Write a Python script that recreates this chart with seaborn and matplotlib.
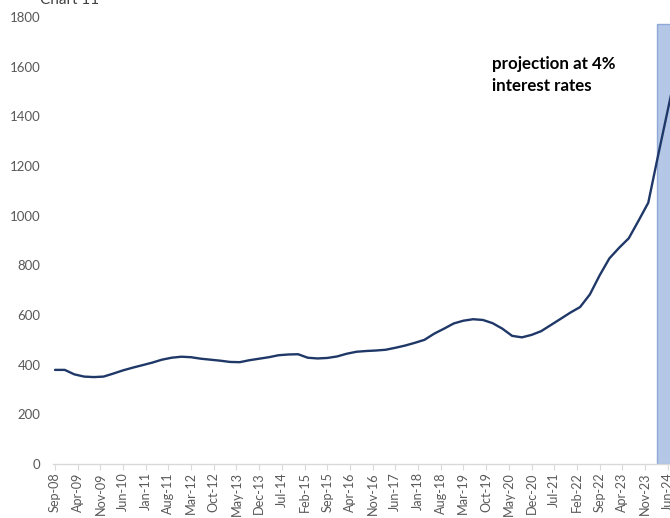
import matplotlib
matplotlib.use("Agg")
import matplotlib.pyplot as plt
import matplotlib.dates as mdates
from matplotlib.patches import Rectangle
import seaborn as sns
import pandas as pd
import numpy as np

# ---- data (quarterly) ----
start_date = "2008-09-01"
values = [379, 379, 361, 352, 350, 352, 364, 377, 388, 398, 408, 420, 428, 432,
          430, 424, 420, 416, 411, 410, 418, 424, 430, 438, 441, 442, 428, 425,
          427, 433, 444, 452, 455, 457, 460, 468, 477, 488, 500, 525, 545, 566,
          577, 583, 580, 567, 545, 516, 510, 520, 535, 560, 585, 610, 632, 683,
          760, 828, 870, 909, 980, 1052, 1240, 1425, 1610]
tick_start = "2008-09-01"
tick_end = "2024-06-01"
y_ticks = [0, 200, 400, 600, 800, 1000, 1200, 1400, 1600, 1800]
annotation = "projection at 4%\ninterest rates"
title = "Chart 11"
projection_start = "2024-02-20"
projection_top = 1770

dates = pd.date_range(start_date, periods=len(values), freq="3MS")
df = pd.DataFrame({"date": dates, "value": values})

sns.set_theme(style="white")
plt.rcParams["font.family"] = ["Lato", "DejaVu Sans"]

fig = plt.figure(figsize=(6.7, 5.18), dpi=100)
ax = fig.add_axes([53 / 670, 54 / 518, 617 / 670, 447 / 518])

# projection shading
x0 = mdates.date2num(pd.Timestamp(projection_start))
x1 = mdates.date2num(pd.Timestamp("2025-06-01"))
ax.add_patch(Rectangle((x0, 0), x1 - x0, projection_top, facecolor="#B4C7E7",
                       edgecolor="#8FA9D6", linewidth=1.0, zorder=1))

sns.lineplot(data=df, x="date", y="value", ax=ax, color="#1F3868",
             linewidth=1.7, zorder=3)

ax.set_xlim(pd.Timestamp("2008-08-13"), pd.Timestamp("2024-06-22"))
ax.set_ylim(0, 1800)
ax.set_yticks(y_ticks)
ax.set_yticklabels([str(v) for v in y_ticks])

xt = pd.date_range(tick_start, tick_end, freq="7MS")
ax.set_xticks(xt)
ax.set_xticklabels([d.strftime("%b-%y") for d in xt], rotation=90)

ax.set_xlabel("")
ax.set_ylabel("")
for s in ["top", "right", "left"]:
    ax.spines[s].set_visible(False)
ax.spines["bottom"].set_color("#D9D9D9")
ax.spines["bottom"].set_linewidth(1.0)
ax.tick_params(axis="x", which="major", length=4, width=0.8, color="#D9D9D9",
               labelsize=9.1, labelcolor="#595959", pad=2, bottom=True)
ax.tick_params(axis="y", length=0, labelsize=9.5, labelcolor="#595959", pad=9)
ax.grid(False)

fig.text(492 / 670, 1 - 56 / 518, annotation, fontsize=12.2, fontweight="bold",
         color="black", ha="left", va="top", linespacing=1.45)
fig.text(40 / 670, 1.0, title, fontsize=11, color="#404040", ha="left",
         va="center")

fig.savefig("out.png", dpi=100)
